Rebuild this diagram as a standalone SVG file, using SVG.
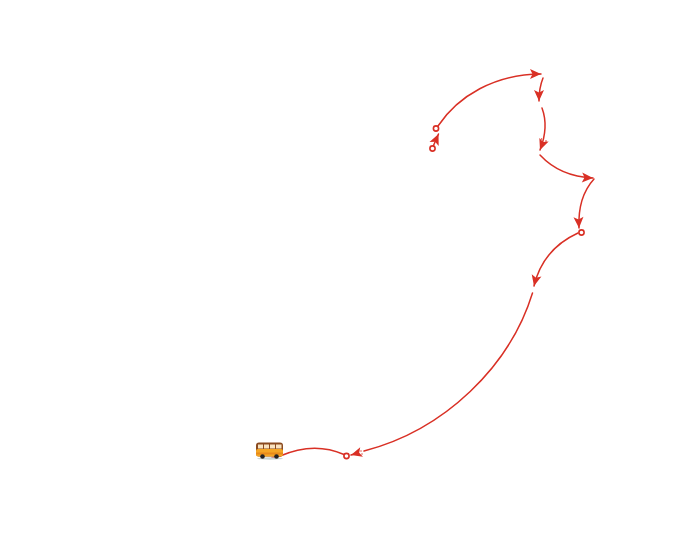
<svg xmlns="http://www.w3.org/2000/svg" width="690" height="536" viewBox="0 0 690 536">
<style>
.c{fill:none;stroke:#d93025;stroke-width:1.5;stroke-linecap:round}
.n{fill:#fff;stroke:#d93025;stroke-width:1.6}
.d{fill:#d93025}
</style>
<defs>
<marker id="a" markerUnits="userSpaceOnUse" markerWidth="14" markerHeight="12" refX="11" refY="5" orient="auto" overflow="visible">
<path d="M0 0L11 5L0 10L2.5 5Z" fill="#d93025"/>
</marker>
</defs>
<rect width="690" height="536" fill="#fff"/>
<g id="connectors">
<path class="c" marker-end="url(#a)" d="M436.500 149Q437.500 141 437 134" style="display:none"/>
<path class="c" marker-end="url(#a)" d="M433.500 145.500L438.500 134"/>
<path class="c" marker-end="url(#a)" d="M438 126C458 96 495 74 541 74"/>
<path class="c" marker-end="url(#a)" d="M543 78Q539 88 539 101"/>
<path class="c" marker-end="url(#a)" d="M542 108Q549 127 540 150"/>
<path class="c" marker-end="url(#a)" d="M540 155C553 169 571 177 593 178"/>
<path class="c" marker-end="url(#a)" d="M594 179C584 190 578 207 579 228"/>
<path class="c" marker-end="url(#a)" d="M578 233C556 243 540 261 534 286"/>
<path class="c" d="M532.500 293C510 366 445 430 364 451"/>
<path class="c" marker-end="url(#a)" d="M358 453L351 455"/>
<path class="c" d="M344 454.500C325 446 305 445 280 456"/>
<path class="c" d="M280 456L272 457.500"/>
<circle class="d" cx="541.500" cy="139" r=".7"/>
<circle class="d" cx="546" cy="141" r=".8"/>
<circle class="d" cx="361" cy="451" r=".7"/>
<circle class="d" cx="362" cy="454" r=".7"/>
</g>
<g id="node-start"><circle class="n" cx="432.500" cy="148.500" r="2.600"/></g>
<g id="node-2"><circle class="n" cx="436" cy="128.500" r="2.600"/></g>
<g id="node-3"><circle class="n" cx="581.500" cy="232.500" r="2.600"/></g>
<g id="node-4"><circle class="n" cx="346.500" cy="456" r="2.600"/></g>
<g id="bus">
<ellipse cx="270" cy="458.500" rx="13" ry="1.200" fill="#c9d6d6"/>
<rect x="256" y="442.500" width="27" height="14" rx="3" fill="#8a4a20"/>
<rect x="256" y="449" width="27" height="7.500" rx="2" fill="#f5a623"/>
<rect x="256" y="452.500" width="27" height="2" fill="#e8891a"/>
<g fill="#f9e3c0"><rect x="258" y="444.500" width="5" height="4"/><rect x="264" y="444.500" width="5" height="4"/><rect x="270" y="444.500" width="5" height="4"/><rect x="276" y="444.500" width="5.500" height="4"/></g>
<circle cx="262.500" cy="456.500" r="2.300" fill="#222"/>
<circle cx="276.500" cy="456.500" r="2.300" fill="#222"/>
</g>
</svg>
